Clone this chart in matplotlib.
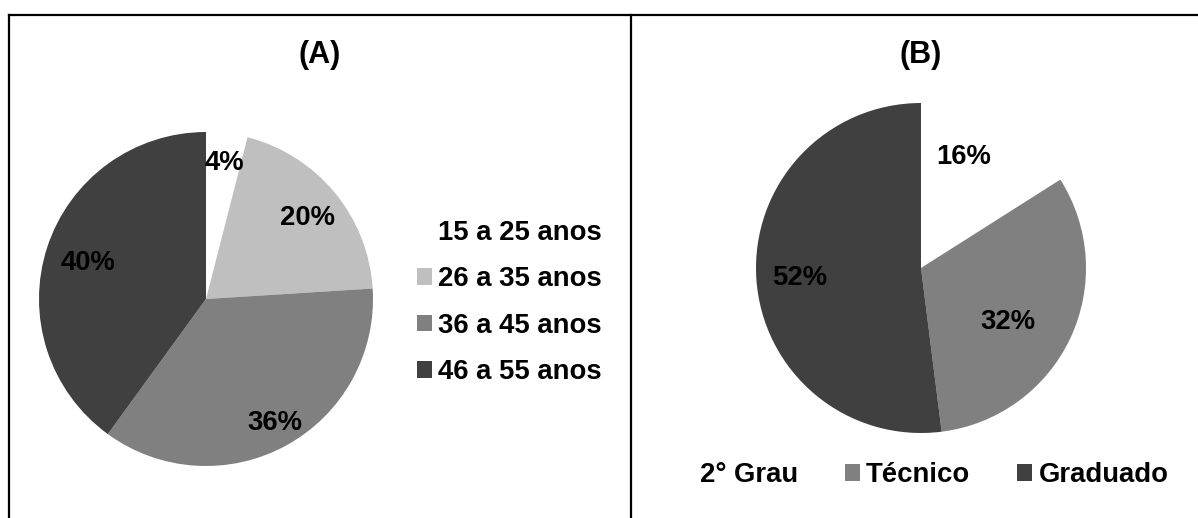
import matplotlib
matplotlib.use("Agg")
import matplotlib.pyplot as plt
from matplotlib.patches import Patch
from matplotlib.lines import Line2D

plt.rcParams["font.family"] = ["Liberation Sans", "DejaVu Sans"]
plt.rcParams["font.weight"] = "bold"

# (A) age groups
age_labels = ["15 a 25 anos", "26 a 35 anos", "36 a 45 anos", "46 a 55 anos"]
age_pct = [4, 20, 36, 40]
age_colors = ["#FFFFFF", "#BFBFBF", "#808080", "#404040"]

# (B) schooling
edu_labels = ["2° Grau", "Técnico", "Graduado"]
edu_pct = [16, 32, 52]
edu_colors = ["#FFFFFF", "#808080", "#404040"]

# label placement inside each pie, in units of the pie radius
age_label_xy = [(0.108, 0.817), (0.605, 0.485), (0.410, -0.743), (-0.707, 0.216)]
edu_label_xy = [(0.260, 0.673), (0.527, -0.327), (-0.733, -0.061)]

W, H = 1198, 518
FS = 19.8
fig = plt.figure(figsize=(W / 100, H / 100), dpi=100)


def pie_axes(cx, cy, r):
    # square axes in pixel units, centred on (cx, cy) measured from the top
    return fig.add_axes([(cx - r) / W, (H - cy - r) / H, 2 * r / W, 2 * r / H])


def draw_pie(ax, values, colors, label_xy):
    ax.pie(values, colors=colors, startangle=90, counterclock=False,
           radius=1, wedgeprops=dict(linewidth=0))
    ax.set_xlim(-1, 1)
    ax.set_ylim(-1, 1)
    ax.set_aspect("equal")
    for v, (x, y) in zip(values, label_xy):
        ax.text(x, y, f"{v}%", ha="center", va="center",
                fontsize=FS, fontweight="bold", color="black")


axA = pie_axes(206, 299, 167)
draw_pie(axA, age_pct, age_colors, age_label_xy)
axB = pie_axes(921, 268, 165)
draw_pie(axB, edu_pct, edu_colors, edu_label_xy)

fig.text(320 / W, 1 - 55 / H, "(A)", ha="center", va="center",
         fontsize=22, fontweight="bold")
fig.text(921 / W, 1 - 55 / H, "(B)", ha="center", va="center",
         fontsize=22, fontweight="bold")

handles_a = [Patch(facecolor=c, edgecolor="none") for c in age_colors]
fig.legend(handles_a, age_labels, loc="center left",
           bbox_to_anchor=(417 / W, 1 - 302.5 / H), frameon=False,
           fontsize=FS, handlelength=0.55, handleheight=0.55,
           handletextpad=0.22, labelspacing=0.74,
           borderpad=0, borderaxespad=0)

handles_b = [Patch(facecolor=c, edgecolor="none") for c in edu_colors]
fig.legend(handles_b, edu_labels, loc="center left", ncol=3,
           bbox_to_anchor=(679 / W, 1 - 475 / H), frameon=False,
           fontsize=FS, handlelength=0.55, handleheight=0.55,
           handletextpad=0.22, columnspacing=1.70,
           borderpad=0, borderaxespad=0)

# panel frame lines
frame = dict(color="black", linewidth=1.6, transform=fig.transFigure)
fig.add_artist(Line2D([9 / W, 1], [1 - 15 / H, 1 - 15 / H], **frame))
fig.add_artist(Line2D([9 / W, 9 / W], [0, 1 - 15 / H], **frame))
fig.add_artist(Line2D([631 / W, 631 / W], [0, 1 - 15 / H], **frame))

fig.savefig("out.png", dpi=100, facecolor="white")
